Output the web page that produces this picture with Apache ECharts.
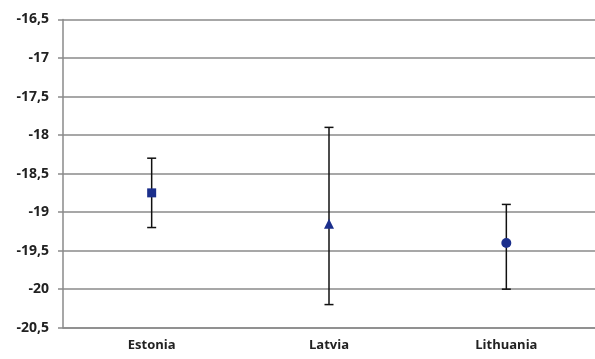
<!DOCTYPE html>
<html>
<head>
<meta charset="utf-8">
<script src="https://cdn.jsdelivr.net/npm/echarts@6/dist/echarts.min.js"></script>
<style>html,body{margin:0;padding:0;background:#fff;}#c{width:595px;height:359px;}</style>
</head>
<body>
<div id="c"></div>
<script>
const categories = ['Estonia', 'Latvia', 'Lithuania'];
const means = [-18.75, -19.15, -19.4];
const upper = [-18.3, -17.9, -18.9];
const lower = [-19.2, -20.2, -20.0];
const symbols = ['rect', 'triangle', 'circle'];
const symbolSizes = [9, 10, 10];

const chart = echarts.init(document.getElementById('c'));
const errData = categories.map((c, i) => [i, lower[i], upper[i]]);
const pointData = categories.map((c, i) => ({
  value: [i, means[i]],
  symbol: symbols[i],
  symbolSize: symbolSizes[i]
}));

chart.setOption({
  animation: false,
  grid: { left: 63, right: -5, top: 19.5, bottom: 31.3 },
  xAxis: {
    type: 'category',
    data: categories,
    boundaryGap: true,
    axisLine: { show: true, lineStyle: { color: '#8a8a8a', width: 1.5 } },
    axisTick: { show: false },
    axisLabel: { color: '#222', fontFamily: 'Open Sans', fontWeight: 'bold', fontSize: 13, margin: 11 },
    splitLine: { show: false }
  },
  yAxis: {
    type: 'value',
    min: -20.5, max: -16.5, interval: 0.5,
    axisLine: { show: true, lineStyle: { color: '#8a8a8a', width: 1.5 } },
    axisTick: { show: true, length: 5, lineStyle: { color: '#8a8a8a', width: 1.5 } },
    axisLabel: {
      color: '#222', fontFamily: 'Open Sans', fontWeight: 'bold', fontSize: 14, margin: 14,
      formatter: v => String(Math.round(v * 10) / 10).replace('.', ',')
    },
    splitLine: { show: true, lineStyle: { color: '#8a8a8a', width: 1.5 } }
  },
  series: [
    {
      type: 'custom',
      data: errData,
      renderItem: function (params, api) {
        const x = api.value(0);
        const lo = api.coord([x, api.value(1)]);
        const hi = api.coord([x, api.value(2)]);
        const hw = 4.5;
        const style = { stroke: '#111', lineWidth: 1.5 };
        return {
          type: 'group',
          children: [
            { type: 'line', shape: { x1: lo[0], y1: lo[1], x2: hi[0], y2: hi[1] }, style },
            { type: 'line', shape: { x1: lo[0] - hw, y1: lo[1], x2: lo[0] + hw, y2: lo[1] }, style },
            { type: 'line', shape: { x1: hi[0] - hw, y1: hi[1], x2: hi[0] + hw, y2: hi[1] }, style }
          ]
        };
      },
      z: 2
    },
    {
      type: 'scatter',
      data: pointData,
      itemStyle: { color: '#1b2f8c', opacity: 1 },
      z: 3
    }
  ]
});
</script>
</body>
</html>
